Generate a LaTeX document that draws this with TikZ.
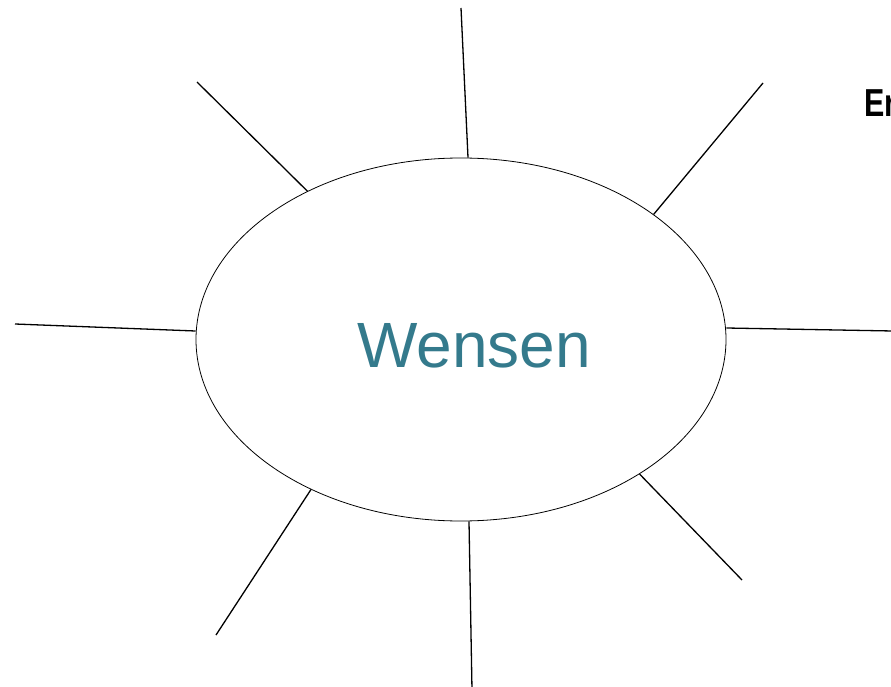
\documentclass[tikz,border=0pt]{standalone}
\usepackage{fontspec}
\setmainfont{Liberation Sans}
\usetikzlibrary{shapes.geometric}
\definecolor{teal}{RGB}{52,122,140}
\tikzset{
  spoke/.style={draw=black, line width=1.3pt},
  bubble/.style={draw=black, line width=0.8pt, ellipse, minimum width=530pt, minimum height=363pt, inner sep=0pt}
}
\begin{document}
\begin{tikzpicture}[x=1pt,y=-1pt]
\useasboundingbox (0,0) rectangle (891,687);
\clip (0,0) rectangle (891,687);
\node[bubble] (c) at (461,339.5) {};
\node[font=\fontsize{64}{70}\selectfont, text=teal, anchor=base] (t) at (474,367) {Wensen};
\node[font=\fontsize{39}{44}\selectfont\bfseries, anchor=base west, inner sep=0pt, xscale=0.78] (er) at (864,117) {Er};
\coordinate (e1) at (461,8);
\coordinate (e2) at (197,82);
\coordinate (e3) at (763,83);
\coordinate (e4) at (15,324);
\coordinate (e5) at (893,331);
\coordinate (e6) at (742,580);
\coordinate (e7) at (472,690);
\coordinate (e8) at (216,635);
\draw[spoke] (c.north) ++(7,0) -- (e1);
\draw[spoke] (c.136.4) -- (e2);
\draw[spoke] (c.33.9) -- (e3);
\draw[spoke] (c.west) ++(0,-8.5) -- (e4);
\draw[spoke] (c.east) ++(0,-11.5) -- (e5);
\draw[spoke] (c.-37.8) -- (e6);
\draw[spoke] (c.south) ++(8,0) -- (e7);
\draw[spoke] (c.-135.1) -- (e8);
\end{tikzpicture}
\end{document}
